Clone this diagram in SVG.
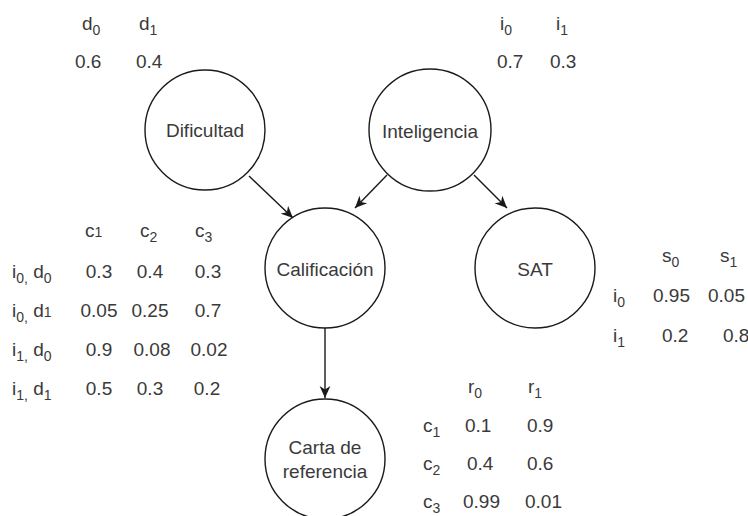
<svg xmlns="http://www.w3.org/2000/svg" width="748" height="516" viewBox="0 0 748 516">
<defs>
<style>
text{font-family:"Liberation Sans",Arial,Helvetica,sans-serif;font-size:19px;fill:#3a3a3a}
.s{font-size:14px}
.node circle{fill:#fff;stroke:#1a1a1a;stroke-width:1.4}
.node text{text-anchor:middle}
.edge{stroke:#1a1a1a;stroke-width:1.4;fill:none;marker-end:url(#arr)}
.m{text-anchor:middle}
</style>
<marker id="arr" viewBox="0 0 10 10" refX="10" refY="5" markerWidth="12" markerHeight="12" markerUnits="userSpaceOnUse" orient="auto">
<path d="M0,0.5 L10,5 L0,9.5 L3,5 z" fill="#1a1a1a"/>
</marker>
</defs>
<rect width="748" height="516" fill="#fff"/>

<g id="connectors">
<line class="edge" x1="249" y1="176" x2="293" y2="218"/>
<line class="edge" x1="387" y1="175" x2="355" y2="208"/>
<line class="edge" x1="474" y1="175" x2="507" y2="208"/>
<line class="edge" x1="325" y1="328" x2="325" y2="398"/>
</g>

<g id="dificultad" class="node">
<circle cx="205" cy="130" r="60"/>
<text x="205" y="137">Dificultad</text>
</g>
<g id="inteligencia" class="node">
<circle cx="430" cy="130" r="61"/>
<text x="430" y="138">Inteligencia</text>
</g>
<g id="calificacion" class="node">
<circle cx="325" cy="268" r="60"/>
<text x="325" y="276">Calificación</text>
</g>
<g id="sat" class="node">
<circle cx="535" cy="268" r="60"/>
<text x="535" y="276">SAT</text>
</g>
<g id="carta" class="node">
<circle cx="325" cy="459" r="60"/>
<text x="325" y="454">Carta de</text>
<text x="325" y="478">referencia</text>
</g>

<g id="tabla-d">
<text x="82" y="30">d<tspan class="s" dy="5">0</tspan></text>
<text x="139" y="30">d<tspan class="s" dy="5">1</tspan></text>
<text x="75" y="68">0.6</text>
<text x="136" y="68">0.4</text>
</g>

<g id="tabla-i">
<text x="500" y="30">i<tspan class="s" dy="5">0</tspan></text>
<text x="556" y="30">i<tspan class="s" dy="5">1</tspan></text>
<text x="497" y="68">0.7</text>
<text x="550" y="68">0.3</text>
</g>

<g id="tabla-c">
<text x="85" y="237">c<tspan class="s">1</tspan></text>
<text x="140" y="237">c<tspan class="s" dy="5">2</tspan></text>
<text x="195" y="237">c<tspan class="s" dy="5">3</tspan></text>

<text x="12" y="278">i<tspan class="s" dy="5">0,</tspan><tspan dy="-5"> d</tspan><tspan class="s" dy="5">0</tspan></text>
<text x="12" y="317">i<tspan class="s" dy="5">0,</tspan><tspan dy="-5"> d</tspan><tspan class="s">1</tspan></text>
<text x="12" y="356">i<tspan class="s" dy="5">1,</tspan><tspan dy="-5"> d</tspan><tspan class="s" dy="5">0</tspan></text>
<text x="12" y="395">i<tspan class="s" dy="5">1,</tspan><tspan dy="-5"> d</tspan><tspan class="s" dy="5">1</tspan></text>

<text class="m" x="99" y="278">0.3</text>
<text class="m" x="150" y="278">0.4</text>
<text class="m" x="208" y="278">0.3</text>
<text class="m" x="99" y="317">0.05</text>
<text class="m" x="150" y="317">0.25</text>
<text class="m" x="208" y="317">0.7</text>
<text class="m" x="99" y="356">0.9</text>
<text class="m" x="152" y="356">0.08</text>
<text class="m" x="209" y="356">0.02</text>
<text class="m" x="99" y="395">0.5</text>
<text class="m" x="150" y="395">0.3</text>
<text class="m" x="207" y="395">0.2</text>
</g>

<g id="tabla-s">
<text x="662" y="262">s<tspan class="s" dy="5">0</tspan></text>
<text x="720" y="262">s<tspan class="s" dy="5">1</tspan></text>
<text x="613" y="302">i<tspan class="s" dy="5">0</tspan></text>
<text x="613" y="342">i<tspan class="s" dy="5">1</tspan></text>
<text x="653" y="302">0.95</text>
<text x="708" y="302">0.05</text>
<text x="662" y="342">0.2</text>
<text x="723" y="342">0.8</text>
</g>

<g id="tabla-r">
<text x="468" y="393">r<tspan class="s" dy="5">0</tspan></text>
<text x="528" y="393">r<tspan class="s" dy="5">1</tspan></text>
<text x="423" y="432">c<tspan class="s" dy="5">1</tspan></text>
<text x="423" y="470">c<tspan class="s" dy="5">2</tspan></text>
<text x="423" y="508">c<tspan class="s" dy="5">3</tspan></text>
<text x="465" y="432">0.1</text>
<text x="527" y="432">0.9</text>
<text x="467" y="470">0.4</text>
<text x="527" y="470">0.6</text>
<text x="463" y="508">0.99</text>
<text x="525" y="508">0.01</text>
</g>
</svg>
